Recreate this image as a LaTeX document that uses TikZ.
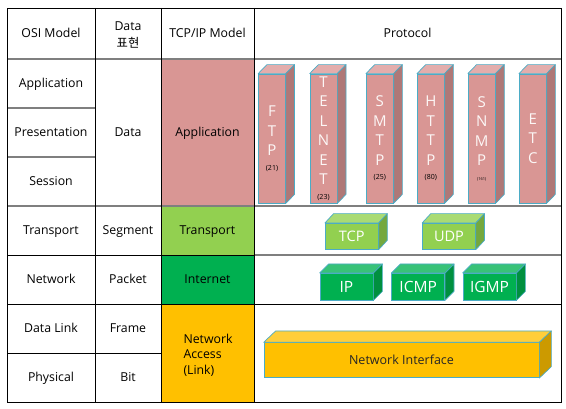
\documentclass[tikz,border=0pt]{standalone}
\usepackage{fontspec}
\setmainfont{Open Sans}
\newfontfamily\krfont{Noto Sans CJK KR}
\definecolor{appF}{HTML}{D99694}
\definecolor{appT}{HTML}{E3ADAC}
\definecolor{appS}{HTML}{AF7877}
\definecolor{trF}{HTML}{92D050}
\definecolor{trT}{HTML}{A9DB74}
\definecolor{trS}{HTML}{74A83E}
\definecolor{inF}{HTML}{00B050}
\definecolor{inT}{HTML}{38C278}
\definecolor{inS}{HTML}{00903F}
\definecolor{naF}{HTML}{FFC000}
\definecolor{naT}{HTML}{FFCE3A}
\definecolor{naS}{HTML}{CC9A00}
\definecolor{boxblue}{HTML}{4BACC6}
\definecolor{gridgrey}{HTML}{7F7F7F}
\newcommand\portnum{\fontsize{7}{8}\selectfont\color{black}}
\newcommand\tinyportnum{\fontsize{4}{5}\selectfont\color{black}}
\newcommand\cubefaces[5]{%
  \filldraw[draw=boxblue, line width=0.7pt, fill=#4, line join=round]
    (#1.north west) -- ++(#2,-#3) -- ([shift={(#2,-#3)}]#1.north east) -- (#1.north east) -- cycle;
  \filldraw[draw=boxblue, line width=0.7pt, fill=#5, line join=round]
    (#1.north east) -- ([shift={(#2,-#3)}]#1.north east) -- ([shift={(#2,-#3)}]#1.south east) -- (#1.south east) -- cycle;}
\tikzset{
  cell/.style={font=\fontsize{12.3}{15}\selectfont, text=black, inner sep=0pt},
  oneline/.style={text height=8.8pt, text depth=0pt},
  blackline/.style={draw=black, line width=0.9pt},
  greyline/.style={draw=gridgrey, line width=1.6pt},
  pcol/.style={draw=boxblue, line width=0.7pt, inner sep=0pt, align=center, text=white},
  appbox/.style={pcol, fill=appF, minimum width=27pt, minimum height=129pt,
    font=\fontsize{15}{19.5}\selectfont, text=white!92!appF},
  trbox/.style={pcol, fill=trF, minimum width=53pt, minimum height=26pt,
    font=\fontsize{14.5}{17}\selectfont, text height=10.4pt, text depth=0pt},
  inbox/.style={pcol, fill=inF, minimum width=53pt, minimum height=26.7pt,
    font=\fontsize{15.5}{18}\selectfont, text height=11pt, text depth=0pt},
  nabox/.style={pcol, fill=naF, minimum width=275pt, minimum height=35pt,
    font=\fontsize{12.5}{15}\selectfont, text=black!85, text height=9pt, text depth=0pt}
}
\begin{document}
\begin{tikzpicture}[x=1pt, y=-1pt]
\useasboundingbox[fill=white] (0,0) rectangle (566,409);
% column fills
\fill[appF] (161,59) rectangle (254,206);
\fill[trF] (161,206) rectangle (254,255);
\fill[inF] (161,255) rectangle (254,304);
\fill[naF] (161,304) rectangle (254,402);
% grid
\draw[greyline] (7,59) -- (561,59);
\draw[greyline] (7,108) -- (95,108);
\draw[greyline] (7,157) -- (95,157);
\draw[greyline] (7,206) -- (561,206);
\draw[blackline] (7,255) -- (254,255);
\draw[greyline] (254,255) -- (561,255);
\draw[blackline] (7,304) -- (561,304);
\draw[blackline] (7,353) -- (161,353);
\draw[blackline] (95,8) -- (95,402);
\draw[blackline] (161,8) -- (161,402);
\draw[blackline] (254,8) -- (254,402);
\draw[blackline] (7,8) rectangle (561,402);
% header
\node[cell, oneline] (hosi) at (51,33.5) {OSI Model};
\node[cell, align=center, font=\fontsize{12.3}{17}\selectfont] (hdata) at (128,34.5) {Data\\{\krfont 표현}};
\node[cell, oneline] (htcp) at (207.5,33.5) {TCP/IP Model};
\node[cell, oneline] (hprot) at (407.5,33.5) {Protocol};
% OSI column
\node[cell, oneline] (oapp) at (51,83.5) {Application};
\node[cell, oneline] (opre) at (51,132.5) {Presentation};
\node[cell, oneline] (oses) at (51,181.5) {Session};
\node[cell, oneline] (otra) at (51,230.5) {Transport};
\node[cell, oneline] (onet) at (51,279.5) {Network};
\node[cell, oneline] (odl) at (51,328.5) {Data Link};
\node[cell, oneline] (ophy) at (51,377.5) {Physical};
% data column
\node[cell, oneline] (ddata) at (128,132.5) {Data};
\node[cell, oneline] (dseg) at (128,230.5) {Segment};
\node[cell, oneline] (dpkt) at (128,279.5) {Packet};
\node[cell, oneline] (dfrm) at (128,328.5) {Frame};
\node[cell, oneline] (dbit) at (128,377.5) {Bit};
% TCP/IP column
\node[cell, oneline] (tapp) at (207.5,132.5) {Application};
\node[cell, oneline] (ttra) at (207.5,230.5) {Transport};
\node[cell, oneline] (tint) at (207.5,279.5) {Internet};
\node[cell, align=left, font=\fontsize{12.3}{15.5}\selectfont] (tna) at (208,355) {Network\\Access\\(Link)};
% application protocols
\node[appbox] (ftp) at (272,138.5) {F\\T\\P\\[-5pt]{\portnum(21)}};
\node[appbox] (telnet) at (323.5,138.5) {T\\E\\L\\N\\E\\T\\[-5pt]{\portnum(23)}};
\node[appbox] (smtp) at (379.8,138.5) {S\\M\\T\\P\\[-5pt]{\portnum(25)}};
\node[appbox] (http) at (430.8,138.5) {H\\T\\T\\P\\[-5pt]{\portnum(80)}};
\node[appbox] (snmp) at (481.7,138.5) {S\\N\\M\\P\\[-5pt]{\tinyportnum(161)}};
\node[appbox] (etc) at (532.8,138.5) {E\\T\\C};
\foreach \n in {ftp,telnet,smtp,http,snmp,etc} {\cubefaces{\n}{8.7}{9}{appT}{appS}}
% transport
\node[trbox] (tcp) at (351.8,236.3) {TCP};
\node[trbox] (udp) at (449,236.3) {UDP};
\foreach \n in {tcp,udp} {\cubefaces{\n}{8.6}{9.3}{trT}{trS}}
% internet
\node[inbox] (ip) at (346.5,286.7) {IP};
\node[inbox] (icmp) at (418.2,286.7) {ICMP};
\node[inbox] (igmp) at (489.5,286.7) {IGMP};
\foreach \n in {ip,icmp,igmp} {\cubefaces{\n}{9}{9}{inT}{inS}}
% network interface
\node[nabox] (ni) at (401.5,360.2) {Network Interface};
\cubefaces{ni}{12}{11.4}{naT}{naS}
\end{tikzpicture}
\end{document}
